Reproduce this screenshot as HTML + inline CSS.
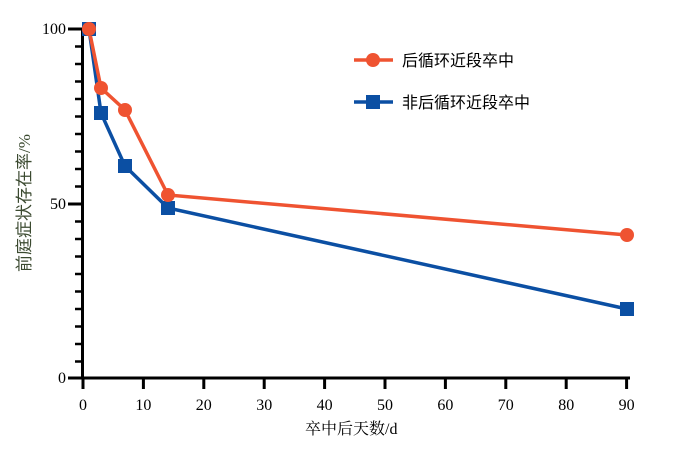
<!DOCTYPE html>
<html><head><meta charset="utf-8"><style>body{margin:0;background:#fff}svg{display:block}</style></head><body>
<svg width="677" height="450" xmlns="http://www.w3.org/2000/svg">
<g stroke="#000" stroke-width="3">
<line x1="82.5" y1="27.5" x2="82.5" y2="379.5"/>
<line x1="81" y1="378" x2="630" y2="378"/>
<line x1="68" y1="29" x2="82" y2="29"/>
<line x1="68" y1="204" x2="82" y2="204"/>
<line x1="68" y1="378" x2="82" y2="378"/>
<g stroke-width="2.5">
<line x1="75" y1="46.5" x2="82" y2="46.5"/><line x1="75" y1="64" x2="82" y2="64"/><line x1="75" y1="81.5" x2="82" y2="81.5"/><line x1="75" y1="99" x2="82" y2="99"/><line x1="75" y1="116.5" x2="82" y2="116.5"/><line x1="75" y1="134" x2="82" y2="134"/><line x1="75" y1="151.5" x2="82" y2="151.5"/><line x1="75" y1="169" x2="82" y2="169"/><line x1="75" y1="186.5" x2="82" y2="186.5"/>
<line x1="75" y1="221.5" x2="82" y2="221.5"/><line x1="75" y1="239" x2="82" y2="239"/><line x1="75" y1="256.5" x2="82" y2="256.5"/><line x1="75" y1="274" x2="82" y2="274"/><line x1="75" y1="291.5" x2="82" y2="291.5"/><line x1="75" y1="309" x2="82" y2="309"/><line x1="75" y1="326.5" x2="82" y2="326.5"/><line x1="75" y1="344" x2="82" y2="344"/><line x1="75" y1="361.5" x2="82" y2="361.5"/>
</g>
<line x1="83" y1="378" x2="83" y2="389"/><line x1="143.4" y1="378" x2="143.4" y2="389"/><line x1="203.8" y1="378" x2="203.8" y2="389"/><line x1="264.2" y1="378" x2="264.2" y2="389"/><line x1="324.6" y1="378" x2="324.6" y2="389"/><line x1="385" y1="378" x2="385" y2="389"/><line x1="445.4" y1="378" x2="445.4" y2="389"/><line x1="505.8" y1="378" x2="505.8" y2="389"/><line x1="566.2" y1="378" x2="566.2" y2="389"/><line x1="626.6" y1="378" x2="626.6" y2="389"/>
</g>
<g font-family="Liberation Serif, serif" font-size="16" fill="#000">
<g text-anchor="end"><text x="66" y="34">100</text><text x="66" y="209">50</text><text x="66" y="383">0</text></g>
<g text-anchor="middle"><text x="83" y="410">0</text><text x="143.4" y="410">10</text><text x="203.8" y="410">20</text><text x="264.2" y="410">30</text><text x="324.6" y="410">40</text><text x="385" y="410">50</text><text x="445.4" y="410">60</text><text x="505.8" y="410">70</text><text x="566.2" y="410">80</text><text x="626.6" y="410">90</text></g>
</g>
<text x="305" y="434" font-family="Liberation Serif, 'Noto Serif CJK SC', serif" font-size="16">卒中后天数/d</text>
<text transform="translate(30,203) rotate(-90)" text-anchor="middle" font-family="Liberation Serif, 'Noto Sans CJK SC', sans-serif" font-size="17" fill="#3b4a30">前庭症状存在率/%</text>
<polyline points="89,29 101,113 125,166 168,208 627,309" fill="none" stroke="#0b4fa3" stroke-width="3.5"/>
<polyline points="89,29 101,88 125,110 168,195 627,235" fill="none" stroke="#ef5331" stroke-width="3.5"/>
<g fill="#0b4fa3"><rect x="82" y="22" width="14" height="14"/><rect x="94" y="106" width="14" height="14"/><rect x="118" y="159" width="14" height="14"/><rect x="161" y="201" width="14" height="14"/><rect x="620" y="302" width="14" height="14"/></g>
<g fill="#ef5331"><circle cx="89" cy="29" r="7"/><circle cx="101" cy="88" r="7"/><circle cx="125" cy="110" r="7"/><circle cx="168" cy="195" r="7"/><circle cx="627" cy="235" r="7"/></g>
<line x1="354" y1="60" x2="393" y2="60" stroke="#ef5331" stroke-width="3.5"/><circle cx="373" cy="60" r="7" fill="#ef5331"/>
<line x1="354" y1="102" x2="393" y2="102" stroke="#0b4fa3" stroke-width="3.5"/><rect x="366" y="95" width="14" height="14" fill="#0b4fa3"/>
<g font-family="Liberation Sans, 'Noto Sans CJK SC', sans-serif" font-size="16" fill="#000"><text x="402" y="66">后循环近段卒中</text><text x="402" y="108">非后循环近段卒中</text></g>
</svg>
</body></html>
